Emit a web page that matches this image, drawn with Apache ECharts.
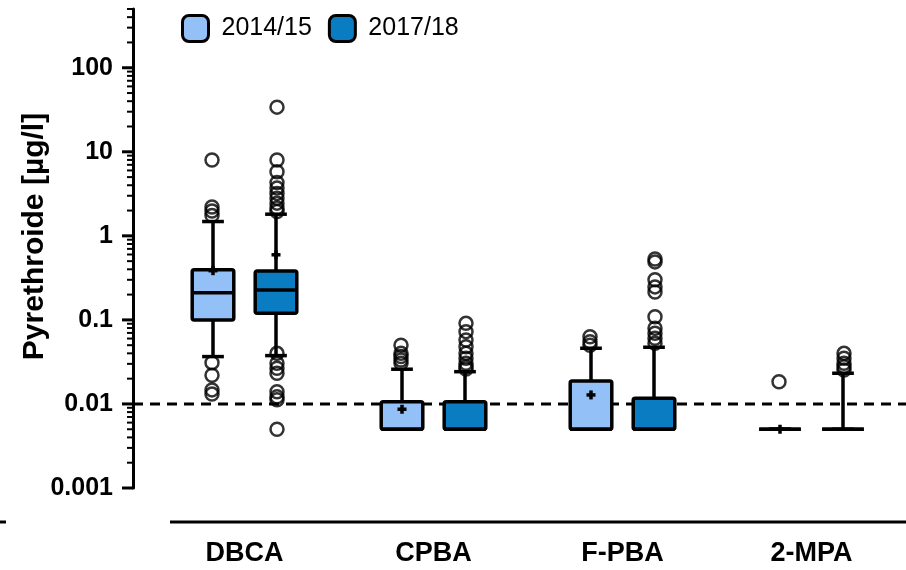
<!DOCTYPE html>
<html>
<head>
<meta charset="utf-8">
<script src="https://cdn.jsdelivr.net/npm/echarts@6/dist/echarts.min.js"></script>
<style>
  html, body { margin: 0; padding: 0; background: #fff; }
  #main { width: 906px; height: 570px; }
</style>
</head>
<body>
<div id="main"></div>
<script>
var categories = ['DBCA', 'CPBA', 'F-PBA', '2-MPA'];
var years = ['2014/15', '2017/18'];

// [lower whisker, Q1, median, Q3, upper whisker, mean]
var box1415 = [
    [0.0366, 0.100, 0.211, 0.394, 1.48, 0.385],
    [0.005, 0.005, 0.005, 0.0106, 0.0259, 0.00865],
    [0.005, 0.005, 0.005, 0.0188, 0.046, 0.0128],
    [0.005, 0.005, 0.005, 0.005, 0.005, 0.005]
];
var box1718 = [
    [0.0376, 0.120, 0.227, 0.383, 1.81, 0.595],
    [0.005, 0.005, 0.005, 0.0106, 0.0242, null],
    [0.005, 0.005, 0.005, 0.0117, 0.0473, null],
    [0.005, 0.005, 0.005, 0.005, 0.0232, null]
];

// outliers per category
var out1415 = [
    [8.0, 2.2, 1.98, 1.75, 0.031, 0.022, 0.0147, 0.0131],
    [0.050, 0.040, 0.0366, 0.0334, 0.0305],
    [0.063, 0.055, 0.050],
    [0.0184]
];
var out1718 = [
    [34, 8.0, 5.8, 4.3, 3.7, 3.2, 2.8, 2.45, 2.14, 1.95, 0.040, 0.0305, 0.0266, 0.0232, 0.0140, 0.0122, 0.0112, 0.0050],
    [0.091, 0.0725, 0.0577, 0.048, 0.040, 0.035, 0.0305, 0.0278, 0.026],
    [0.53, 0.49, 0.30, 0.247, 0.215, 0.109, 0.0795, 0.0694, 0.0606, 0.0527],
    [0.040, 0.035, 0.0305, 0.0278, 0.0254]
];

var lodLine = [0.01];
var majorTicks = [0.001, 0.01, 0.1, 1, 10, 100];
var minorMult = [2, 3, 4, 5, 6, 7, 8, 9];

var colors = ['#93c1f7', '#0a7cc1'];
var font = "'Liberation Sans', Arial, sans-serif";
var yAxisShift = 17;

var tickData = [];
majorTicks.forEach(function (t) {
    tickData.push([0, t, 1]);
    minorMult.forEach(function (m) {
        if (t * m <= 500) tickData.push([0, t * m, 0]);
    });
});

function boxRows(arr) {
    return arr.map(function (r, i) { return [i].concat(r); });
}
function outRows(arr) {
    var res = [];
    arr.forEach(function (vals, i) {
        vals.forEach(function (v) { res.push([i, v]); });
    });
    return res;
}

function boxRenderer(frac) {
    return function (params, api) {
        var cat = api.value(0);
        var band = params.coordSys.width / categories.length;
        var cx = api.coord([cat, 1])[0] + band * frac;
        var w = band * 0.22;
        var cw = band * 0.115;
        var yLo = api.coord([cat, api.value(1)])[1];
        var yQ1 = api.coord([cat, api.value(2)])[1];
        var yMed = api.coord([cat, api.value(3)])[1];
        var yQ3 = api.coord([cat, api.value(4)])[1];
        var yHi = api.coord([cat, api.value(5)])[1];
        var mean = api.value(6);
        var ls = { stroke: '#000', lineWidth: 3.5 };
        var kids = [];
        kids.push({ type: 'line', shape: { x1: cx, y1: yQ3, x2: cx, y2: yHi }, style: ls });
        kids.push({ type: 'line', shape: { x1: cx - cw / 2, y1: yHi, x2: cx + cw / 2, y2: yHi }, style: ls });
        kids.push({ type: 'line', shape: { x1: cx, y1: yQ1, x2: cx, y2: yLo }, style: ls });
        kids.push({ type: 'line', shape: { x1: cx - cw / 2, y1: yLo, x2: cx + cw / 2, y2: yLo }, style: ls });
        kids.push({
            type: 'rect',
            shape: { x: cx - w / 2, y: yQ3, width: w, height: yQ1 - yQ3, r: 2 },
            style: { fill: api.visual('color'), stroke: '#000', lineWidth: 3.5 }
        });
        kids.push({ type: 'line', shape: { x1: cx - w / 2, y1: yMed, x2: cx + w / 2, y2: yMed }, style: ls });
        if (!isNaN(mean) && mean != null) {
            var ym = api.coord([cat, mean])[1];
            kids.push({ type: 'line', shape: { x1: cx - 4.5, y1: ym, x2: cx + 4.5, y2: ym }, style: ls });
            kids.push({ type: 'line', shape: { x1: cx, y1: ym - 4.5, x2: cx, y2: ym + 4.5 }, style: ls });
        }
        return { type: 'group', children: kids };
    };
}

var myChart = echarts.init(document.getElementById('main'));

var option = {
    animation: false,
    backgroundColor: '#fff',
    grid: { left: 150, width: 780, top: 9, height: 479 },
    legend: {
        left: 176,
        top: 9,
        itemWidth: 26,
        itemHeight: 26,
        itemGap: 16,
        icon: 'roundRect',
        selectedMode: false,
        data: years,
        itemStyle: { borderColor: '#000', borderWidth: 3 },
        textStyle: { fontSize: 25, fontFamily: font, color: '#000', padding: [0, 0, 0, 8] }
    },
    xAxis: {
        type: 'category',
        data: categories,
        offset: 34,
        axisLine: { show: false },
        axisTick: { show: false },
        axisLabel: {
            margin: 18,
            fontSize: 27,
            fontWeight: 'bold',
            fontFamily: font,
            color: '#000'
        }
    },
    yAxis: {
        type: 'log',
        logBase: 10,
        min: 0.001,
        max: 500,
        offset: yAxisShift,
        name: 'Pyrethroide [µg/l]',
        nameLocation: 'middle',
        nameGap: 83,
        nameMoveOverlap: false,
        nameTextStyle: {
            fontSize: 30,
            fontWeight: 'bold',
            fontFamily: font,
            color: '#000',
            padding: [0, 0, 0, 24]
        },
        axisLine: { show: true, lineStyle: { color: '#000', width: 3 } },
        axisTick: { show: false },
        splitLine: { show: false },
        axisLabel: {
            showMaxLabel: false,
            margin: 20,
            fontSize: 25,
            fontWeight: 'bold',
            fontFamily: font,
            color: '#000'
        }
    },
    graphic: [
        { type: 'line', shape: { x1: 170, y1: 522, x2: 906, y2: 522 }, style: { stroke: '#000', lineWidth: 3 } },
        { type: 'line', shape: { x1: 0, y1: 522, x2: 6, y2: 522 }, style: { stroke: '#000', lineWidth: 3 } }
    ],
    series: [
        {
            name: '2014/15',
            type: 'custom',
            z: 3,
            itemStyle: { color: colors[0], borderColor: '#000', borderWidth: 3 },
            encode: { x: 0, y: [1, 2, 3, 4, 5] },
            data: boxRows(box1415),
            renderItem: boxRenderer(-1 / 6)
        },
        {
            name: '2017/18',
            type: 'custom',
            z: 3,
            itemStyle: { color: colors[1], borderColor: '#000', borderWidth: 3 },
            encode: { x: 0, y: [1, 2, 3, 4, 5] },
            data: boxRows(box1718),
            renderItem: boxRenderer(1 / 6)
        },
        {
            name: 'lod',
            type: 'custom',
            z: 1,
            silent: true,
            encode: { x: 0, y: 1 },
            data: lodLine.map(function (v) { return [0, v]; }),
            renderItem: function (params, api) {
                var y = api.coord([0, api.value(1)])[1];
                return {
                    type: 'line',
                    shape: { x1: params.coordSys.x - yAxisShift, y1: y, x2: api.getWidth(), y2: y },
                    style: { stroke: '#000', lineWidth: 3, lineDash: [10, 7] }
                };
            }
        },
        {
            name: 'ticks',
            type: 'custom',
            z: 1,
            silent: true,
            encode: { x: 0, y: 1 },
            data: tickData,
            renderItem: function (params, api) {
                var y = api.coord([0, api.value(1)])[1];
                var x0 = params.coordSys.x - yAxisShift;
                var major = api.value(2) === 1;
                var len = major ? 11 : 6;
                return {
                    type: 'line',
                    shape: { x1: x0 - len, y1: y, x2: x0, y2: y },
                    style: { stroke: '#000', lineWidth: major ? 3 : 2 }
                };
            }
        },
        {
            name: '2014/15',
            type: 'scatter',
            z: 4,
            symbol: 'circle',
            symbolSize: 13,
            symbolOffset: [-32.5, 0],
            itemStyle: { color: 'rgba(255,255,255,0)', borderColor: '#000', borderWidth: 2.5 },
            data: outRows(out1415)
        },
        {
            name: '2017/18',
            type: 'scatter',
            z: 4,
            symbol: 'circle',
            symbolSize: 13,
            symbolOffset: [32.5, 0],
            itemStyle: { color: 'rgba(255,255,255,0)', borderColor: '#000', borderWidth: 2.5 },
            data: outRows(out1718)
        }
    ]
};

myChart.setOption(option);
</script>
</body>
</html>
